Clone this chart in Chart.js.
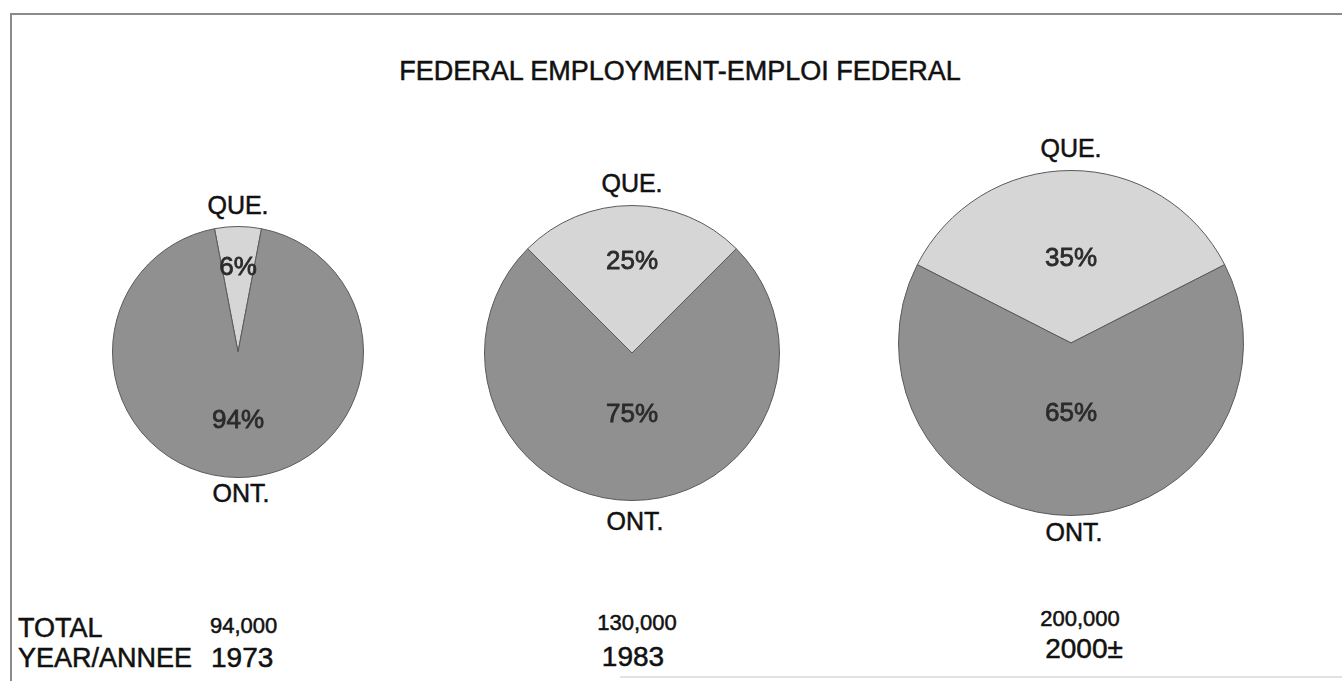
<!DOCTYPE html>
<html>
<head>
<meta charset="utf-8">
<script src="https://cdn.jsdelivr.net/npm/chart.js@4/dist/chart.umd.min.js"></script>
<style>
  html, body { margin: 0; padding: 0; background: #fff; }
  body { width: 1342px; height: 681px; position: relative; overflow: hidden;
         font-family: "Liberation Sans", Arial, sans-serif; color: #111; }
  .frame-top { position: absolute; left: 10px; top: 13px; width: 1332px; height: 2px; background: #8a8a8a; }
  .frame-left { position: absolute; left: 10px; top: 13px; width: 2px; height: 668px; background: #8a8a8a; }
  .frame-bottom { position: absolute; left: 620px; top: 676px; width: 722px; height: 2px; background: #e2e2e2; }
  .t { position: absolute; white-space: nowrap; line-height: 1; -webkit-text-stroke: 0.5px #111; }
  .pie { position: absolute; }
</style>
</head>
<body>
<div class="frame-top"></div>
<div class="frame-left"></div>
<div class="frame-bottom"></div>
<div id="labels"></div>

<script>
// ---- data ----
const title = "FEDERAL EMPLOYMENT-EMPLOI FEDERAL";
const regions = ["QUE.", "ONT."];
const years = ["1973", "1983", "2000\u00B1"];
const totals = ["94,000", "130,000", "200,000"];
const queShare = [6, 25, 35];
const ontShare = [94, 75, 65];
const rowLabels = ["TOTAL", "YEAR/ANNEE"];

// ---- layout (positions/sizes, not data) ----
const pieGeom = [
  { cx: 238, cy: 352, r: 124, queLbl: 0.67, ontLbl: 0.55, queY: 205, ontY: 493 },
  { cx: 632, cy: 353, r: 146, queLbl: 0.62, ontLbl: 0.42, queY: 183, ontY: 521 },
  { cx: 1071, cy: 343, r: 171, queLbl: 0.49, ontLbl: 0.41, queY: 148, ontY: 532 }
];
const colors = { que: "#d6d6d6", ont: "#909090", edge: "#5a5a5a" };

function addText(txt, x, y, size, align, extra) {
  const d = document.createElement("div");
  d.className = "t";
  d.textContent = txt;
  d.style.fontSize = size + "px";
  d.style.top = (y - size * 0.5) + "px";
  if (align === "center") { d.style.left = x + "px"; d.style.transform = "translateX(-50%)"; }
  else { d.style.left = x + "px"; }
  if (extra) Object.assign(d.style, extra);
  document.getElementById("labels").appendChild(d);
}

addText(title, 680, 71, 27, "center");
addText(rowLabels[0], 18, 628, 27, "left");
addText(rowLabels[1], 18, 658, 27, "left");
addText(totals[0], 210, 626, 22, "left");
addText(years[0], 211, 658, 28, "left");
addText(totals[1], 637, 623, 22, "center");
addText(years[1], 633, 657, 28, "center");
addText(totals[2], 1080, 619, 22, "center");
addText(years[2], 1084, 649, 28, "center");

// percent labels inside slices
const pctLabelPlugin = {
  id: "pctLabels",
  afterDatasetsDraw(chart, args, opts) {
    const ctx = chart.ctx;
    const meta = chart.getDatasetMeta(0);
    ctx.save();
    ctx.font = "26px 'Liberation Sans', Arial, sans-serif";
    ctx.fillStyle = "#2b2b2b";
    ctx.strokeStyle = "#2b2b2b";
    ctx.lineWidth = 0.8;
    ctx.textAlign = "center";
    ctx.textBaseline = "middle";
    meta.data.forEach((arc, i) => {
      const p = arc.getProps(["x", "y", "startAngle", "endAngle", "outerRadius"], true);
      const mid = (p.startAngle + p.endAngle) / 2;
      const rr = p.outerRadius * opts.frac[i];
      const v = chart.data.datasets[0].data[i];
      const tx = p.x + Math.cos(mid) * rr, ty = p.y + Math.sin(mid) * rr;
      ctx.fillText(v + "%", tx, ty);
      ctx.strokeText(v + "%", tx, ty);
    });
    ctx.restore();
  }
};

pieGeom.forEach((g, k) => {
  const pad = 2;
  const size = 2 * g.r + 2 * pad;
  const wrap = document.createElement("div");
  wrap.className = "pie";
  wrap.style.left = (g.cx - g.r - pad) + "px";
  wrap.style.top = (g.cy - g.r - pad) + "px";
  wrap.style.width = size + "px";
  wrap.style.height = size + "px";
  const cv = document.createElement("canvas");
  wrap.appendChild(cv);
  document.body.appendChild(wrap);

  const q = queShare[k];
  new Chart(cv, {
    type: "pie",
    data: {
      labels: regions,
      datasets: [{
        data: [queShare[k], ontShare[k]],
        backgroundColor: [colors.que, colors.ont],
        borderColor: colors.edge,
        borderWidth: 1
      }]
    },
    options: {
      responsive: true,
      maintainAspectRatio: false,
      animation: false,
      rotation: -q * 3.6 / 2,
      layout: { padding: 0 },
      plugins: {
        legend: { display: false },
        tooltip: { enabled: false },
        title: { display: false },
        pctLabels: { frac: [g.queLbl, g.ontLbl] }
      }
    },
    plugins: [pctLabelPlugin]
  });

  addText(regions[0], g.cx, g.queY, 25, "center");
  addText(regions[1], g.cx + 3, g.ontY, 25, "center");
});
</script>
</body>
</html>
